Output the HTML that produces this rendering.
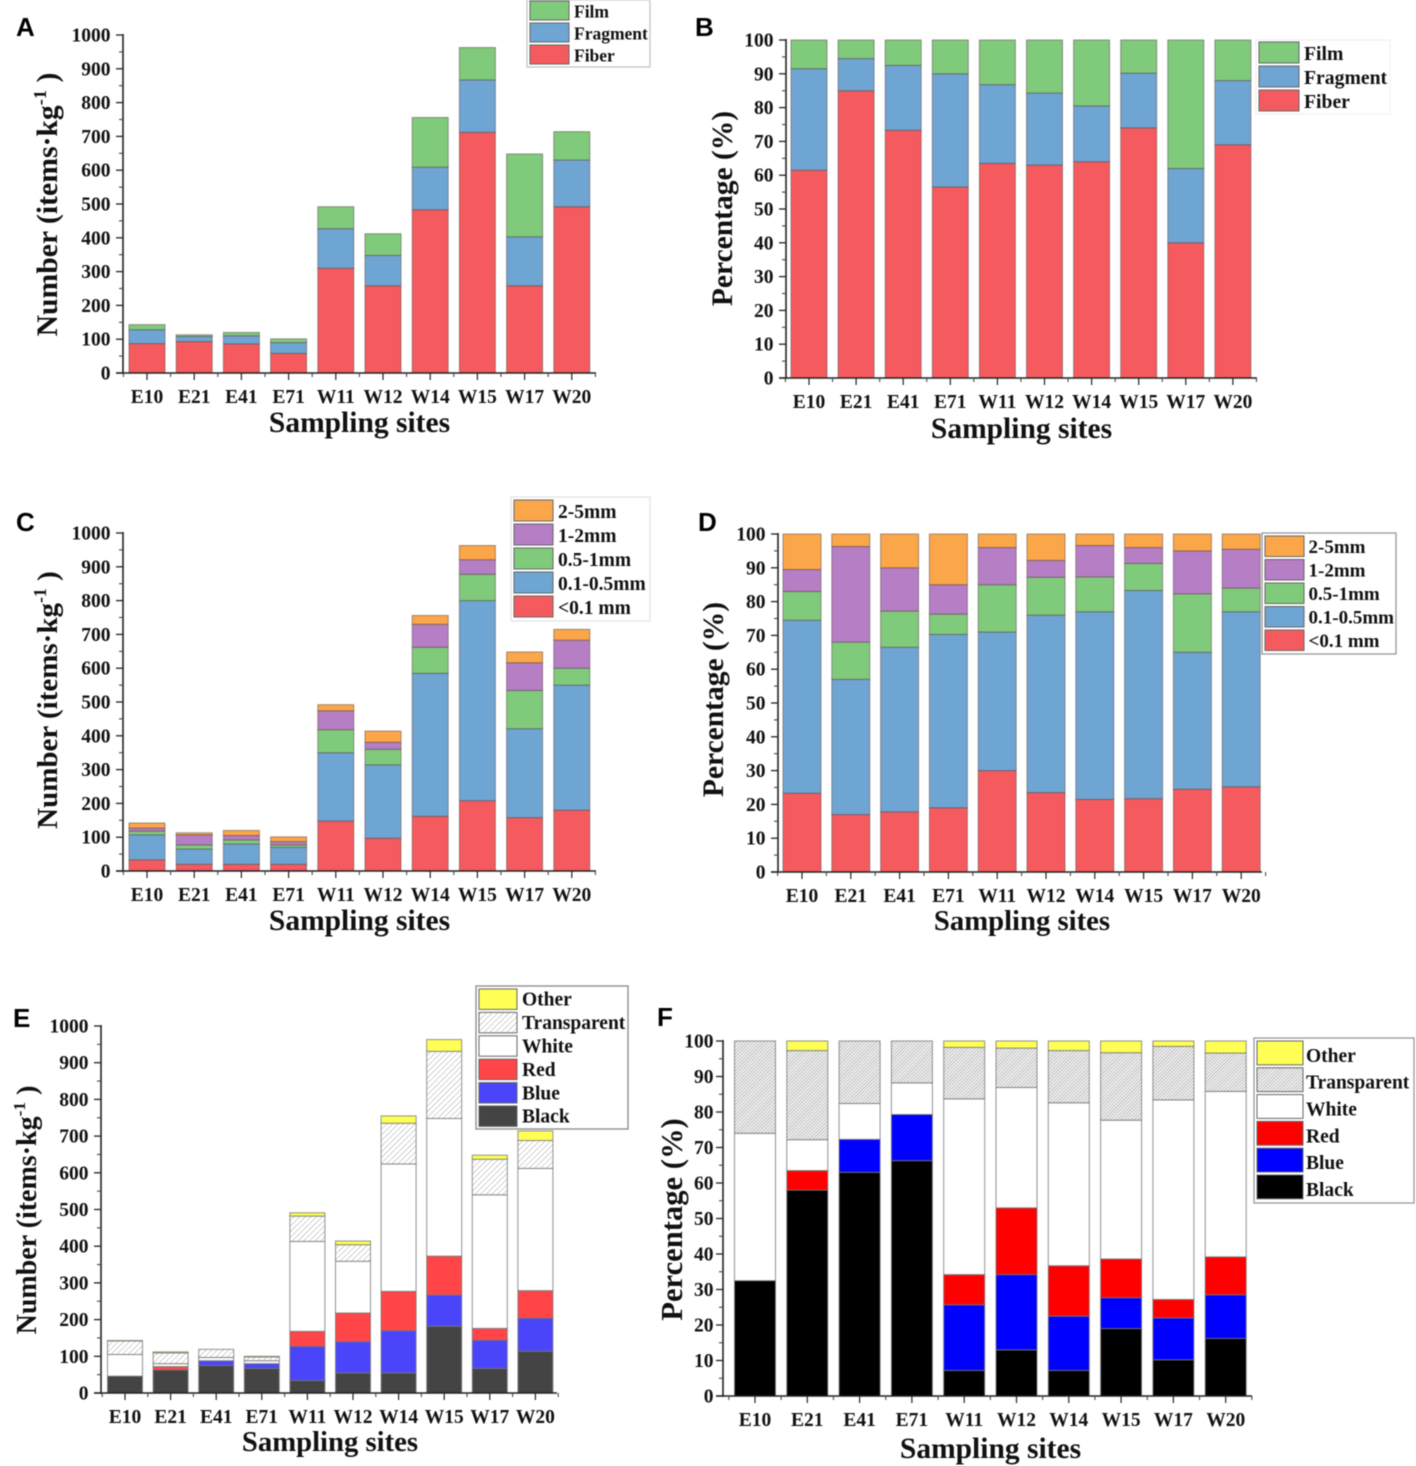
<!DOCTYPE html>
<html lang="en">
<head>
<meta charset="utf-8">
<title>Microplastic abundance by sampling site</title>
<style>
html,body{margin:0;padding:0;background:#fff;width:1416px;height:1466px;overflow:hidden}
svg{display:block;filter:blur(0.55px)}
text{font-family:"Liberation Serif",serif;font-weight:bold;fill:#111}
.letter{font-family:"Liberation Sans",sans-serif;font-size:26px;fill:#000}
</style>
</head>
<body>
<svg id="fig" xmlns="http://www.w3.org/2000/svg" width="1416" height="1466" viewBox="0 0 1416 1466">
<defs>
<pattern id="hatch" patternUnits="userSpaceOnUse" width="4" height="4" patternTransform="rotate(-45)">
<rect width="4" height="4" fill="#fff"/>
<line x1="0" y1="0" x2="4" y2="0" stroke="#a8a8a8" stroke-width="1"/>
</pattern>
<pattern id="hatchDense" patternUnits="userSpaceOnUse" width="2.4" height="2.4" patternTransform="rotate(-45)">
<rect width="3" height="3" fill="#f4f4f4"/>
<line x1="0" y1="0" x2="3" y2="0" stroke="#8a8a8a" stroke-width="1"/>
</pattern>
</defs>
</svg>
<script>
// ---------- shared categories and ticks ----------
const sites = ["E10","E21","E41","E71","W11","W12","W14","W15","W17","W20"];
const countTicks = [0,100,200,300,400,500,600,700,800,900,1000];
const percentTicks = [0,10,20,30,40,50,60,70,80,90,100];

// ---------- panel A: items per kg by shape ----------
const aFiber = [87,93,86,58,310,258,483,712,258,492];
const aFragment = [41,15,24,32,117,90,126,155,145,138];
const aFilm = [15,5,10,11,65,64,147,96,245,84];

// ---------- panel B: percentage by shape ----------
const bFiber = [61.5,85,73.3,56.5,63.5,63,64,74,40,69];
const bFragment = [30,9.5,19.2,33.5,23.3,21.3,16.5,16.2,22,19];
const bFilm = [8.5,5.5,7.5,10,13.2,15.7,19.5,9.8,38,12];

// ---------- panel C: items per kg by size ----------
const cUnder01 = [33,20,20,20,148,97,162,208,158,180];
const c01to05 = [74,45,60,50,202,217,423,592,263,370];
const c05to1 = [11,12,12,7,68,46,77,78,113,50];
const c1to2 = [9,30,13,10,56,21,68,43,82,83];
const c2to5 = [15,6,15,14,18,33,26,42,32,32];

// ---------- panel D: percentage by size ----------
const dUnder01 = [23.3,17,17.8,19,30,23.5,21.5,21.7,24.5,25.2];
const d01to05 = [51.2,40,48.7,51.3,41,52.5,55.5,61.6,40.5,51.8];
const d05to1 = [8.5,11,10.7,6,14,11.2,10.3,8,17.3,7];
const d1to2 = [6.5,28.3,12.8,8.7,11,5,9.3,4.7,12.7,11.5];
const d2to5 = [10.5,3.7,10,15,4,7.8,3.4,4,5,4.5];

// ---------- panel E: items per kg by colour ----------
const eBlack = [46,63,75,67,34,55,55,182,67,114];
const eBlue = [0,0,13,13,93,85,115,85,77,90];
const eRed = [0,9,0,0,41,78,107,106,32,75];
const eWhite = [59,8,9,8,245,141,347,375,364,333];
const eTransparent = [37,29,22,10,69,45,111,183,97,76];
const eOther = [1,3,0,2,9,10,20,32,11,26];

// ---------- panel F: percentage by colour ----------
const fBlack = [32.5,58,63,66.3,7.2,13,7.2,19,10.2,16.2];
const fBlue = [0,0,9.3,13,18.5,21.2,15.3,8.7,11.8,12.3];
const fRed = [0,5.5,0,0,8.5,18.8,14.2,10.9,5.2,10.7];
const fWhite = [41.5,8.7,10.1,8.9,49.5,33.9,45.9,39.1,56.2,46.6];
const fTransparent = [26,25.1,17.6,11.8,14.5,11.1,14.7,19,15.1,10.8];
const fOther = [0,2.7,0,0,1.8,2,2.7,3.3,1.5,3.4];

const NS = "http://www.w3.org/2000/svg";
const root = document.getElementById("fig");

function mk(parent, tag, attrs, txt){
  const n = document.createElementNS(NS, tag);
  for(const k in attrs){ n.setAttribute(k, attrs[k]); }
  if(txt !== undefined){ n.textContent = txt; }
  parent.appendChild(n);
  return n;
}

function drawChart(c){
  const g = mk(root, "g", {});
  
  

  const yMax = c.ticks[c.ticks.length - 1];
  const yScale = v => c.y0 - (v / yMax) * (c.y0 - c.yTop);
  const xScale = i => c.x0 + c.step * i;

  // panel letter
  const letter = mk(g, "text", {x:c.letterX, y:c.letterY, class:"letter"}, c.id);
  
  

  // stacked bars
  sites.forEach(function(site, i){
    let acc = 0;
    c.series.forEach(function(s){
      const v = s.values[i];
      if(v <= 0){ return; }
      const top = yScale(acc + v), bot = yScale(acc);
      const bar = mk(g, "rect", {
        x: xScale(i) - c.barW / 2, y: top, width: c.barW, height: Math.max(bot - top, 0.5),
        fill: s.fill, stroke: c.barStroke, "stroke-width": 1, "stroke-opacity": c.strokeOpacity
      });
      
      
      acc += v;
    });
  });

  // axes
  const axisLeft = c.xAxisL, axisRight = c.xAxisR;
  const yAxis = mk(g, "line", {x1:axisLeft, x2:axisLeft, y1:c.yTop - 1, y2:c.y0 + 1, stroke:"#222", "stroke-width":1.6});
  
  
  const xAxis = mk(g, "line", {x1:axisLeft - 7, x2:axisRight, y1:c.y0, y2:c.y0, stroke:"#222", "stroke-width":1.6});
  
  

  // y ticks
  c.ticks.forEach(function(t, i){
    const y = yScale(t);
    mk(g, "line", {x1:axisLeft - 7, x2:axisLeft, y1:y, y2:y, stroke:"#222", "stroke-width":1.3});
    if(i < c.ticks.length - 1){
      const ym = yScale((t + c.ticks[i + 1]) / 2);
      mk(g, "line", {x1:axisLeft - 4, x2:axisLeft, y1:ym, y2:ym, stroke:"#444", "stroke-width":1.1});
    }
    const lab = mk(g, "text", {x:axisLeft - c.tickGap, y:y + 6.5, "text-anchor":"end", "font-size":c.tickSize}, String(t));
    
    
  });

  // x ticks
  sites.forEach(function(site, i){
    const x = xScale(i);
    mk(g, "line", {x1:x, x2:x, y1:c.y0, y2:c.y0 + 7, stroke:"#222", "stroke-width":1.2});
    const xb = x - c.step / 2;
    mk(g, "line", {x1:xb, x2:xb, y1:c.y0, y2:c.y0 + 4, stroke:"#444", "stroke-width":1.1});
    if(i === sites.length - 1){
      mk(g, "line", {x1:x + c.step / 2, x2:x + c.step / 2, y1:c.y0, y2:c.y0 + 4, stroke:"#444", "stroke-width":1.1});
    }
    const lab = mk(g, "text", {x:x, y:c.y0 + 30, "text-anchor":"middle", "font-size":c.tickSize}, site);
    
    
  });

  // x axis title
  const xt = mk(g, "text", {x:c.xTitleX, y:c.xTitleY, "text-anchor":"middle", "font-size":c.xTitleSize}, "Sampling sites");
  
  

  // y axis title
  const yt = mk(g, "text", {
    transform:"translate(" + c.yTitleX + "," + c.yTitleY + ") rotate(-90)",
    "text-anchor":"middle", "font-size":c.yTitleSize
  });
  
  
  if(c.isPercent){
    yt.textContent = "Percentage (%)";
  } else {
    mk(yt, "tspan", {}, "Number (items·kg");
    mk(yt, "tspan", {dy:-11, "font-size":c.yTitleSize * 0.62}, "-1");
    mk(yt, "tspan", {dy:11}, " )");
  }

  // legend
  const L = c.legend;
  const lg = mk(g, "g", {});
  
  
  const box = mk(lg, "rect", {x:L.x, y:L.y, width:L.w, height:L.h, fill:"#fff", stroke:L.border, "stroke-width":1.3});
  
  
  const rev = c.series.slice().reverse();
  rev.forEach(function(s, i){
    const ry = L.y + L.pad + i * L.row;
    const sw = mk(lg, "rect", {x:L.x + 3, y:ry, width:L.swatch, height:L.row - 3, fill:s.fill, stroke:"#666", "stroke-width":1});
    
    
    const tx = mk(lg, "text", {x:L.x + L.swatch + 8 + L.textDx, y:ry + L.row / 2 + 4 + L.textDy, "font-size":L.font}, s.label);
    
    
  });
}

const RED="#f55b5e", BLU="#6fa5d3", GRN="#80ca7c", PUR="#b67ec4", ORG="#fca64a";

drawChart({id:"A", x0:147, step:47.2, barW:36, y0:373, yTop:35, ticks:countTicks,
  xAxisL:123, xAxisR:596, tickSize:19.5, tickGap:12.5, xTitleSize:29.5, yTitleSize:29.7, barStroke:"#5a4a4a", strokeOpacity:0.55,
  letterX:16, letterY:36, xTitleX:359.5, xTitleY:432, yTitleX:57, yTitleY:204.5, isPercent:false,
  series:[
    {key:"fiber",label:"Fiber",values:aFiber,fill:RED},
    {key:"fragment",label:"Fragment",values:aFragment,fill:BLU},
    {key:"film",label:"Film",values:aFilm,fill:GRN}],
  legend:{x:527,y:0,w:123,h:67,pad:1,row:22,swatch:39,font:17.5,border:"#c4c4c4",textDx:0,textDy:1.5}});

drawChart({id:"B", x0:809, step:47.1, barW:36, y0:378, yTop:40, ticks:percentTicks,
  xAxisL:786, xAxisR:1257, tickSize:19.5, tickGap:12.5, xTitleSize:29.5, yTitleSize:29.5, barStroke:"#5a4a4a", strokeOpacity:0.55,
  letterX:695, letterY:36, xTitleX:1021.5, xTitleY:438, yTitleX:732, yTitleY:208.5, isPercent:true,
  series:[
    {key:"fiber",label:"Fiber",values:bFiber,fill:RED},
    {key:"fragment",label:"Fragment",values:bFragment,fill:BLU},
    {key:"film",label:"Film",values:bFilm,fill:GRN}],
  legend:{x:1256,y:40,w:134,h:74,pad:2,row:24,swatch:40,font:19.7,border:"#f0f0f0",textDx:0,textDy:1.8}});

drawChart({id:"C", x0:147, step:47.2, barW:36, y0:871, yTop:533, ticks:countTicks,
  xAxisL:123, xAxisR:596, tickSize:19.5, tickGap:12.5, xTitleSize:29.5, yTitleSize:29, barStroke:"#5a4a4a", strokeOpacity:0.55,
  letterX:16, letterY:531, xTitleX:359.5, xTitleY:930, yTitleX:57, yTitleY:700, isPercent:false,
  series:[
    {key:"under-0-1mm",label:"<0.1 mm",values:cUnder01,fill:RED},
    {key:"0-1-0-5mm",label:"0.1-0.5mm",values:c01to05,fill:BLU},
    {key:"0-5-1mm",label:"0.5-1mm",values:c05to1,fill:GRN},
    {key:"1-2mm",label:"1-2mm",values:c1to2,fill:PUR},
    {key:"2-5mm",label:"2-5mm",values:c2to5,fill:ORG}],
  legend:{x:511,y:497,w:139,h:124,pad:3,row:24,swatch:39,font:19.5,border:"#e4e4e4",textDx:0,textDy:1.8}});

drawChart({id:"D", x0:802, step:48.8, barW:38, y0:872, yTop:534, ticks:percentTicks,
  xAxisL:778, xAxisR:1262, tickSize:19.5, tickGap:12.5, xTitleSize:28.7, yTitleSize:29.5, barStroke:"#5a4a4a", strokeOpacity:0.55,
  letterX:698, letterY:531, xTitleX:1022, xTitleY:930, yTitleX:723, yTitleY:699.5, isPercent:true,
  series:[
    {key:"under-0-1mm",label:"<0.1 mm",values:dUnder01,fill:RED},
    {key:"0-1-0-5mm",label:"0.1-0.5mm",values:d01to05,fill:BLU},
    {key:"0-5-1mm",label:"0.5-1mm",values:d05to1,fill:GRN},
    {key:"1-2mm",label:"1-2mm",values:d1to2,fill:PUR},
    {key:"2-5mm",label:"2-5mm",values:d2to5,fill:ORG}],
  legend:{x:1262,y:533,w:134,h:121,pad:3,row:23.5,swatch:39,font:19,border:"#999",textDx:-0.5,textDy:1}});

drawChart({id:"E", x0:125, step:45.6, barW:35, y0:1393, yTop:1026, ticks:countTicks,
  xAxisL:101, xAxisR:557, tickSize:19.5, tickGap:12.5, xTitleSize:28.7, yTitleSize:28, barStroke:"#777", strokeOpacity:0.8,
  letterX:13, letterY:1027, xTitleX:330, xTitleY:1451, yTitleX:36, yTitleY:1210, isPercent:false,
  series:[
    {key:"black",label:"Black",values:eBlack,fill:"#444444"},
    {key:"blue",label:"Blue",values:eBlue,fill:"#4a45fb"},
    {key:"red",label:"Red",values:eRed,fill:"#ff4547"},
    {key:"white",label:"White",values:eWhite,fill:"#ffffff"},
    {key:"transparent",label:"Transparent",values:eTransparent,fill:"url(#hatch)"},
    {key:"other",label:"Other",values:eOther,fill:"#ffff55"}],
  legend:{x:476,y:986,w:152,h:143,pad:3,row:23.4,swatch:38,font:19.5,border:"#888",textDx:0,textDy:1}});

drawChart({id:"F", x0:755, step:52.3, barW:41, y0:1396, yTop:1041, ticks:percentTicks,
  xAxisL:723, xAxisR:1252, tickSize:19.5, tickGap:9.5, xTitleSize:29.5, yTitleSize:30.6, barStroke:"#777", strokeOpacity:0.8,
  letterX:657, letterY:1026, xTitleX:990.5, xTitleY:1458, yTitleX:682, yTitleY:1219.5, isPercent:true,
  series:[
    {key:"black",label:"Black",values:fBlack,fill:"#000000"},
    {key:"blue",label:"Blue",values:fBlue,fill:"#0000ff"},
    {key:"red",label:"Red",values:fRed,fill:"#ff0000"},
    {key:"white",label:"White",values:fWhite,fill:"#ffffff"},
    {key:"transparent",label:"Transparent",values:fTransparent,fill:"url(#hatchDense)"},
    {key:"other",label:"Other",values:fOther,fill:"#ffff55"}],
  legend:{x:1254,y:1038,w:160,h:165,pad:3,row:26.8,swatch:46,font:19.5,border:"#999",textDx:-2,textDy:3.5}});
</script>
</body>
</html>
